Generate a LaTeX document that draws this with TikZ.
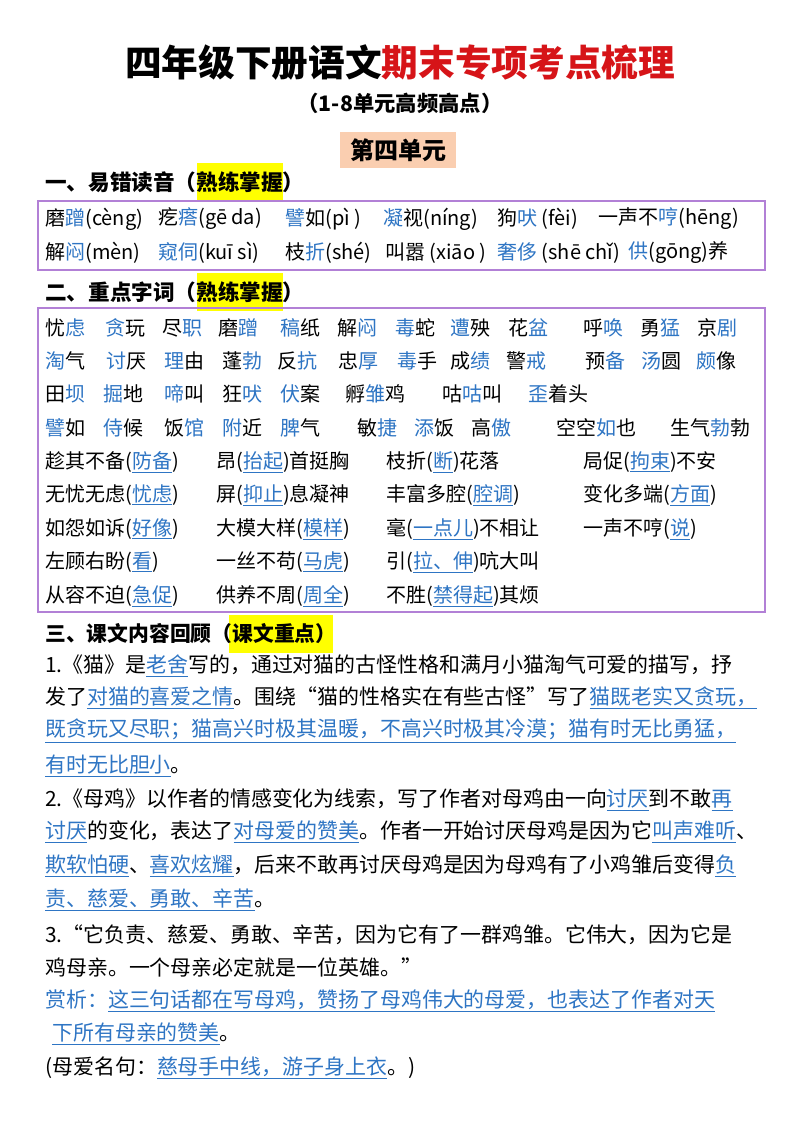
\documentclass[tikz,border=0pt]{standalone}
\usepackage{fontspec}
\setmainfont{Noto Sans CJK SC}
\definecolor{blu}{RGB}{46,117,196}
\definecolor{redtitle}{RGB}{214,20,24}
\definecolor{boxline}{RGB}{178,128,214}
\definecolor{peach}{RGB}{250,206,176}
\definecolor{hiyel}{RGB}{255,255,0}
\newcommand{\bl}[1]{\textcolor{blu}{#1}}
\newcommand{\hl}[1]{\textcolor{blu}{\underline{#1}}}
\begin{document}
\begin{tikzpicture}[x=0.75pt,y=-0.75pt,
    txt/.style={anchor=west,inner sep=0pt,font=\fontsize{15}{18}\selectfont},
    para/.style={anchor=west,inner sep=0pt,font=\fontsize{15.7}{20}\selectfont},
    head/.style={anchor=west,inner sep=0pt,font=\fontsize{16.2}{18}\selectfont\bfseries},
    frame/.style={draw=boxline,line width=1.2pt}]
  \useasboundingbox[fill=white] (0,0) rectangle (800,1130);
  % title
  \node[inner sep=0pt,font=\fontsize{27.5}{30}\selectfont\bfseries] (title) at (400,63)
    {四年级下册语文\textcolor{redtitle}{期末专项考点梳理}};
  \node[inner sep=0pt,font=\fontsize{16}{20}\selectfont\bfseries] (sub) at (400,103) {（1-8单元高频高点）};
  \fill[peach] (340,132) rectangle (456,168);
  \node[inner sep=0pt,font=\fontsize{18}{20}\selectfont\bfseries] (unit) at (398,150) {第四单元};
  % section one
  \fill[hiyel] (197,163) rectangle (283,201);
  \node[head] (h1) at (45,182) {一、易错读音（熟练掌握）};
  \draw[frame] (38,201) rectangle (765,270);
  \foreach \x/\w in {45/磨\bl{蹭}(cèng), 158/疙\bl{瘩}(gē\ da), 285/\bl{譬}如(pì\ ), 383/\bl{凝}视(níng),
      497/狗\bl{吠}\ (fèi), 598/一声不\bl{哼}(hēng)}
    \node[txt] at (\x,219) {\w};
  \foreach \x/\w in {45/解\bl{闷}(mèn), 158/\bl{窥伺}(kuī\ sì), 285/枝\bl{折}(shé), 385/叫嚣\ (xiāo\ ),
      497/\bl{奢侈}\ (shē\ chǐ), 628/\bl{供}(gōng)养}
    \node[txt] at (\x,253) {\w};
  % section two
  \fill[hiyel] (197,273) rectangle (283,311);
  \node[head] (h2) at (45,292) {二、重点字词（熟练掌握）};
  \draw[frame] (38,308) rectangle (765,612);
  \foreach \x/\w in {45/忧\bl{虑}, 105/\bl{贪}玩, 162/尽\bl{职}, 218/磨\bl{蹭}, 280/\bl{稿}纸, 337/解\bl{闷},
      395/\bl{毒}蛇, 450/\bl{遭}殃, 508/花\bl{盆}, 583/呼\bl{唤}, 640/勇\bl{猛}, 697/京\bl{剧}}
    \node[txt] at (\x,328) {\w};
  \foreach \x/\w in {45/\bl{淘}气, 106/\bl{讨}厌, 164/\bl{理}由, 222/蓬\bl{勃}, 277/反\bl{抗}, 338/忠\bl{厚},
      397/\bl{毒}手, 450/成\bl{绩}, 506/警\bl{戒}, 585/预\bl{备}, 641/\bl{汤}圆, 696/\bl{颇}像}
    \node[txt] at (\x,361) {\w};
  \foreach \x/\w in {45/田\bl{坝}, 103/\bl{掘}地, 164/\bl{啼}叫, 222/狂\bl{吠}, 280/\bl{伏}案,
      345/孵\bl{雏}鸡, 442/咕\bl{咕}叫, 528/\bl{歪}着头}
    \node[txt] at (\x,394) {\w};
  \foreach \x/\w in {45/\bl{譬}如, 103/\bl{侍}候, 164/饭\bl{馆}, 222/\bl{附}近, 280/\bl{脾}气, 357/敏\bl{捷},
      414/\bl{添}饭, 471/高\bl{傲}, 556/空空\bl{如}也, 670/生气\bl{勃}勃}
    \node[txt] at (\x,428) {\w};
  \foreach \y/\a/\b/\c/\d in {
      462/趁其不备(\hl{防备})/昂(\hl{抬起})首挺胸/枝折(\hl{断})花落/局促(\hl{拘束})不安,
      495/无忧无虑(\hl{忧虑})/屏(\hl{抑止})息凝神/丰富多腔(\hl{腔调})/变化多端(\hl{方面}),
      529/如怨如诉(\hl{好像})/大模大样(\hl{模样})/毫(\hl{一点儿})不相让/一声不哼(\hl{说}),
      562/左顾右盼(\hl{看})/一丝不苟(\hl{马虎})/引(\hl{拉、伸})吭大叫/{},
      596/从容不迫(\hl{急促})/供养不周(\hl{周全})/不胜(\hl{禁得起})其烦/{}} {
    \node[txt] at (45,\y) {\a};
    \node[txt] at (216,\y) {\b};
    \node[txt] at (386,\y) {\c};
    \node[txt] at (583,\y) {\d};
  }
  % section three
  \fill[hiyel] (229,615) rectangle (333,653);
  \node[head,font=\fontsize{15.6}{18}\selectfont\bfseries] (h3) at (45,634) {三、课文内容回顾（课文重点）};
  \node[para] (p1) at (45,666) {1.《猫》是\hl{老舍}写的，通过对猫的古怪性格和满月小猫淘气可爱的描写，抒};
  \node[para] (p2) at (45,698) {发了\hl{对猫的喜爱之情}。围绕“猫的性格实在有些古怪”写了\hl{猫既老实又贪玩，}};
  \node[para] (p3) at (45,731) {\hl{既贪玩又尽职；猫高兴时极其温暖，不高兴时极其冷漠；猫有时无比勇猛，}};
  \node[para] (p4) at (45,766) {\hl{有时无比胆小}。};
  \node[para] (p5) at (45,800) {2.《母鸡》以作者的情感变化为线索，写了作者对母鸡由一向\hl{讨厌}到不敢\hl{再}};
  \node[para] (p6) at (45,832) {\hl{讨厌}的变化，表达了\hl{对母爱的赞美}。作者一开始讨厌母鸡是因为它\hl{叫声难听}、};
  \node[para] (p7) at (45,866) {\hl{欺软怕硬}、\hl{喜欢炫耀}，后来不敢再讨厌母鸡是因为母鸡有了小鸡雏后变得\hl{负}};
  \node[para] (p8) at (45,900) {\hl{责、慈爱、勇敢、辛苦}。};
  \node[para] (p9) at (45,935) {3.“它负责、慈爱、勇敢、辛苦，因为它有了一群鸡雏。它伟大，因为它是};
  \node[para] (p10) at (45,967) {鸡母亲。一个母亲必定就是一位英雄。”};
  \node[para] (p11) at (45,1001) {\bl{赏析：}\hl{这三句话都在写母鸡，赞扬了母鸡伟大的母爱，也表达了作者对天}};
  \node[para] (p12) at (52,1034) {\hl{下所有母亲的赞美}。};
  \node[para] (p13) at (45,1068) {(母爱名句：\hl{慈母手中线，游子身上衣}。)};
\end{tikzpicture}
\end{document}
